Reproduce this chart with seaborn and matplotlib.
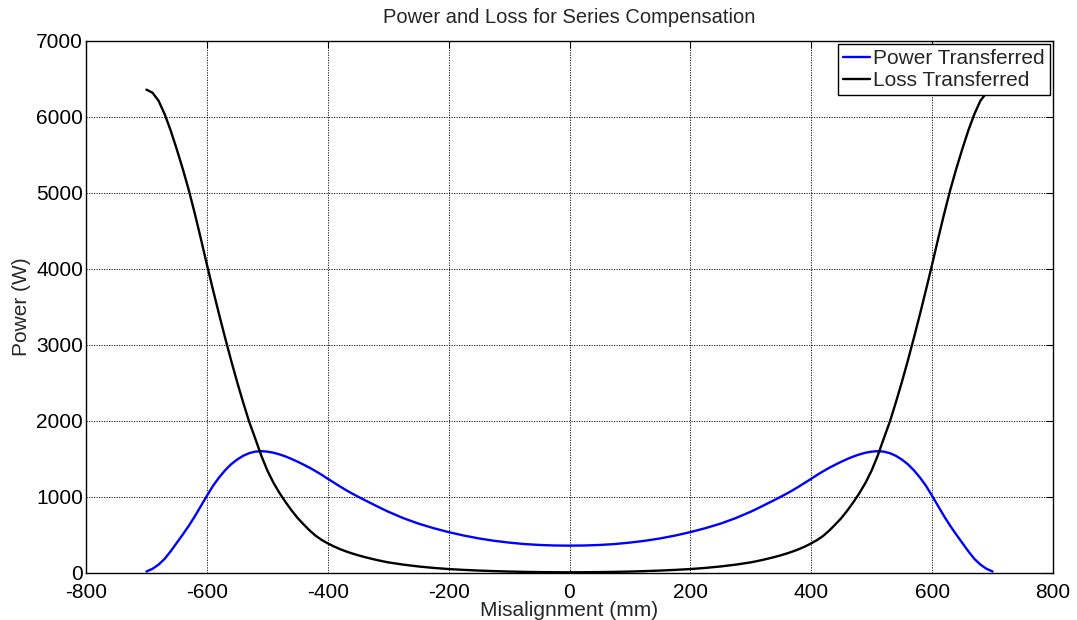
import matplotlib
matplotlib.use("Agg")
import matplotlib.pyplot as plt
import seaborn as sns
import pandas as pd

# ---- data ----
misalign_left = [-700, -690, -680, -670, -660, -650, -640, -630, -620, -610,
                 -600, -590, -580, -570, -560, -550, -540, -530, -520, -510,
                 -500, -490, -480, -470, -460, -450, -440, -430, -420, -410,
                 -400, -390, -380, -370, -360, -350, -340, -330, -320, -310,
                 -300, -275, -250, -225, -200, -175, -150, -125, -100, -75, -50, -25, 0]
power_left = [20, 55, 110, 185, 285, 395, 505, 620, 745, 880,
              1015, 1145, 1255, 1350, 1430, 1492, 1542, 1577, 1597, 1603,
              1597, 1583, 1561, 1534, 1501, 1465, 1426, 1385, 1340, 1292,
              1240, 1190, 1140, 1092, 1047, 1005, 964, 924, 884, 845,
              807, 722, 650, 590, 538, 493, 455, 424, 400, 381, 369, 362, 360]
loss_left = [6360, 6320, 6215, 6040, 5825, 5580, 5320, 5040, 4730, 4400,
             4060, 3730, 3410, 3100, 2800, 2515, 2245, 1990, 1770, 1545,
             1350, 1190, 1055, 935, 825, 725, 640, 560, 490, 435,
             390, 350, 315, 285, 258, 234, 212, 192, 173, 156,
             140, 110, 86, 67, 52, 41, 32, 25, 19, 15, 12, 10, 9]

misalign_right = [25, 50, 75, 100, 125, 150, 175, 200, 225, 250, 275,
                  300, 310, 320, 330, 340, 350, 360, 370, 380, 390,
                  400, 410, 420, 430, 440, 450, 460, 470, 480, 490,
                  500, 510, 520, 530, 540, 550, 560, 570, 580, 590,
                  600, 610, 620, 630, 640, 650, 660, 670, 680, 690, 700]
power_right = [362, 369, 381, 400, 424, 455, 493, 538, 590, 650, 722,
               807, 845, 884, 924, 964, 1005, 1047, 1092, 1140, 1190,
               1240, 1292, 1340, 1385, 1426, 1465, 1501, 1534, 1561, 1583,
               1597, 1603, 1597, 1577, 1542, 1492, 1430, 1350, 1255, 1145,
               1015, 880, 745, 620, 505, 395, 285, 185, 110, 55, 20]
loss_right = [10, 12, 15, 19, 25, 32, 41, 52, 67, 86, 110,
              140, 156, 173, 192, 212, 234, 258, 285, 315, 350,
              390, 435, 490, 560, 640, 725, 825, 935, 1055, 1190,
              1350, 1545, 1770, 1990, 2245, 2515, 2800, 3100, 3410, 3730,
              4060, 4400, 4730, 5040, 5320, 5580, 5825, 6040, 6215, 6320, 6360]

x_ticks = [-800, -600, -400, -200, 0, 200, 400, 600, 800]
y_ticks = [0, 1000, 2000, 3000, 4000, 5000, 6000, 7000]

misalignment = misalign_left + misalign_right
power = power_left + power_right
loss = loss_left + loss_right

df = pd.DataFrame({"Misalignment": misalignment, "Power": power, "Loss": loss})

sns.set_style("white")
plt.rcParams['font.family'] = ['Liberation Sans', 'DejaVu Sans']

W, H = 1077, 620
fig = plt.figure(figsize=(W / 100, H / 100), dpi=100)
ax = fig.add_axes([86 / W, 1 - 573 / H, (1053 - 86) / W, (573 - 41) / H])

sns.lineplot(data=df, x="Misalignment", y="Power", ax=ax, color="#0000ff",
             linewidth=1.7, label="Power Transferred", sort=False)
sns.lineplot(data=df, x="Misalignment", y="Loss", ax=ax, color="black",
             linewidth=1.7, label="Loss Transferred", sort=False)

ax.set_xlim(-800, 800)
ax.set_ylim(0, 7000)
ax.set_xticks(x_ticks)
ax.set_yticks(y_ticks)
ax.set_xticklabels([str(v) for v in x_ticks])
ax.set_yticklabels([str(v) for v in y_ticks])
ax.grid(True, color="black", linestyle=(0, (1.5, 1.5)), linewidth=0.6)
ax.set_axisbelow(True)
for s in ax.spines.values():
    s.set_color("black")
    s.set_linewidth(1.0)
ax.tick_params(direction="in", length=5, width=0.8, colors="black",
               top=True, right=True, labelsize=15)
ax.tick_params(axis="x", pad=7)
ax.tick_params(axis="y", pad=2)

ax.set_title("Power and Loss for Series Compensation", fontsize=14.5, pad=13)
ax.set_xlabel("Misalignment (mm)", fontsize=15, labelpad=-0.5)
ax.set_ylabel("Power (W)", fontsize=15, labelpad=3.5)

leg = ax.legend(loc="upper right", fontsize=15, frameon=True, fancybox=False,
                handlelength=1.3, handletextpad=0.15, borderpad=0.25,
                labelspacing=0.12, borderaxespad=0.15)
leg.get_frame().set_edgecolor("black")
leg.get_frame().set_linewidth(1.0)
leg.get_frame().set_alpha(1.0)

fig.savefig("out.png", dpi=100)
